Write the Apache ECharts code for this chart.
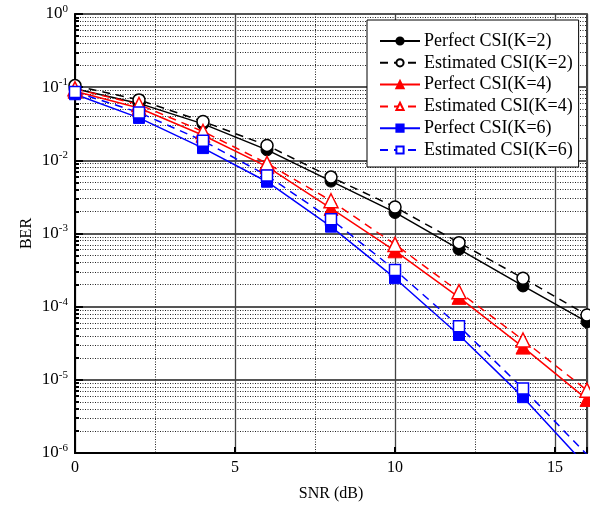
<!DOCTYPE html>
<html>
<head>
<meta charset="utf-8">
<script src="https://cdn.jsdelivr.net/npm/echarts@6/dist/echarts.min.js"></script>
<style>
  html, body { margin: 0; padding: 0; background: #fff; }
  #chart { width: 590px; height: 510px; }
</style>
</head>
<body>
<div id="chart"></div>
<script>
// SNR points (dB)
const snr = [0, 2, 4, 6, 8, 10, 12, 14, 16]

// BER
const perfectK2   = [0.095, 0.060, 0.0315, 0.0139, 0.0052, 0.00194, 0.00061, 0.000192, 6.2e-5]
const estimatedK2 = [0.105, 0.067, 0.034, 0.016, 0.0059, 0.0023, 0.00075, 0.000245, 7.7e-5]
const perfectK4   = [0.088, 0.052, 0.022, 0.0082, 0.0022, 0.00058, 0.000134, 2.8e-5, 5.4e-6]
const estimatedK4 = [0.095, 0.058, 0.0248, 0.0091, 0.0028, 0.00071, 0.00016, 3.5e-5, 7.2e-6]
const perfectK6   = [0.080, 0.038, 0.0147, 0.0051, 0.00124, 0.000245, 4.1e-5, 5.8e-6, 6.5e-7]
const estimatedK6 = [0.086, 0.045, 0.0185, 0.0062, 0.00157, 0.000318, 5.4e-5, 7.6e-6, 9.5e-7]

const xTickLabels = [0, 5, 10, 15]
const xMinorLines = [2.5, 7.5, 12.5]

// minor log positions 2..9 in every decade
const yMinorLines = []
for (let e = -6; e < 0; e++) {
  for (let k = 2; k <= 9; k++) yMinorLines.push(k * Math.pow(10, e))
}

const serif = "'Times New Roman', 'Liberation Serif', serif"

const mk = (name, data, color, symbol, size, hollow) => ({
  name,
  type: 'line',
  data: snr.map((x, i) => [x, data[i]]),
  symbol,
  symbolSize: size,
  showAllSymbol: true,
  lineStyle: { color, width: 1.5, type: hollow ? [8, 6] : 'solid' },
  itemStyle: hollow
    ? { color: '#fff', borderColor: color, borderWidth: 1.5 }
    : { color, borderColor: color, borderWidth: 1 },
  emphasis: { disabled: true },
})

const chart = echarts.init(document.getElementById('chart'))

chart.setOption({
  animation: false,
  backgroundColor: '#fff',
  grid: {
    left: 75, right: 3, top: 14, bottom: 57,
    show: true, borderColor: '#000', borderWidth: 1.5, backgroundColor: 'transparent',
  },
  legend: {
    orient: 'vertical',
    left: 367, top: 20,
    padding: [12, 6, 8, 12],
    backgroundColor: '#fff',
    borderColor: '#000',
    borderWidth: 1,
    borderRadius: 0,
    itemWidth: 40, itemHeight: 9,
    itemGap: 3.8,
    textStyle: { fontFamily: serif, fontSize: 18, color: '#000', padding: [0, 0, 0, -1] },
    data: ['Perfect CSI(K=2)', 'Estimated CSI(K=2)', 'Perfect CSI(K=4)',
      'Estimated CSI(K=4)', 'Perfect CSI(K=6)', 'Estimated CSI(K=6)'],
  },
  xAxis: [
    {
      type: 'value', min: 0, max: 16, interval: 5,
      name: 'SNR (dB)', nameLocation: 'middle', nameGap: 33, nameMoveOverlap: false,
      nameTextStyle: { fontFamily: serif, fontSize: 16, color: '#000' },
      axisLine: { show: true, onZero: false, lineStyle: { color: '#000', width: 2 } },
      axisTick: { show: true, inside: true, length: 6, lineStyle: { color: '#000', width: 2 } },
      axisLabel: {
        fontFamily: serif, fontSize: 16, color: '#000', margin: 7,
        formatter: v => (xTickLabels.includes(v) ? String(v) : ''),
      },
      splitLine: { show: true, lineStyle: { color: '#444', width: 1.3 } },
    },
    {
      type: 'value', min: 0, max: 16, position: 'bottom',
      axisLine: { show: false },
      axisLabel: { show: false },
      axisTick: { show: false, customValues: xMinorLines },
      splitLine: { show: true, lineStyle: { color: '#222', width: 1, type: [1, 1.5] } },
    },
  ],
  yAxis: [
    {
      type: 'log', min: 1e-6, max: 1, logBase: 10,
      name: 'BER', nameLocation: 'middle', nameGap: 40, nameMoveOverlap: false,
      nameTextStyle: { fontFamily: serif, fontSize: 16, color: '#000' },
      axisLine: { show: true, onZero: false, lineStyle: { color: '#000', width: 2 } },
      axisTick: { show: true, inside: true, length: 8, lineStyle: { color: '#000', width: 2 } },
      axisLabel: {
        margin: 7,
        formatter: v => '{b|10}{s|' + Math.round(Math.log10(v)) + '}',
        rich: {
          b: { fontFamily: serif, fontSize: 17, color: '#000' },
          s: { fontFamily: serif, fontSize: 11, color: '#000', padding: [0, 0, 10, 0] },
        },
      },
      splitLine: { show: true, lineStyle: { color: '#555', width: 1.8 } },
    },
    {
      type: 'log', min: 1e-6, max: 1, logBase: 10, position: 'left',
      axisLine: { show: false },
      axisLabel: { show: false },
      axisTick: {
        show: true, inside: true, length: 4, customValues: yMinorLines,
        lineStyle: { color: '#000', width: 2 },
      },
      splitLine: { show: true, lineStyle: { color: '#222', width: 1, type: [1, 1.5] } },
    },
  ],
  series: [
    mk('Perfect CSI(K=2)', perfectK2, '#000', 'circle', 12, false),
    mk('Estimated CSI(K=2)', estimatedK2, '#000', 'circle', 12, true),
    mk('Perfect CSI(K=4)', perfectK4, '#ff0000', 'triangle', 14, false),
    mk('Estimated CSI(K=4)', estimatedK4, '#ff0000', 'triangle', 14, true),
    mk('Perfect CSI(K=6)', perfectK6, '#0000ff', 'rect', 11, false),
    mk('Estimated CSI(K=6)', estimatedK6, '#0000ff', 'rect', 11, true),
  ],
})
</script>
</body>
</html>
